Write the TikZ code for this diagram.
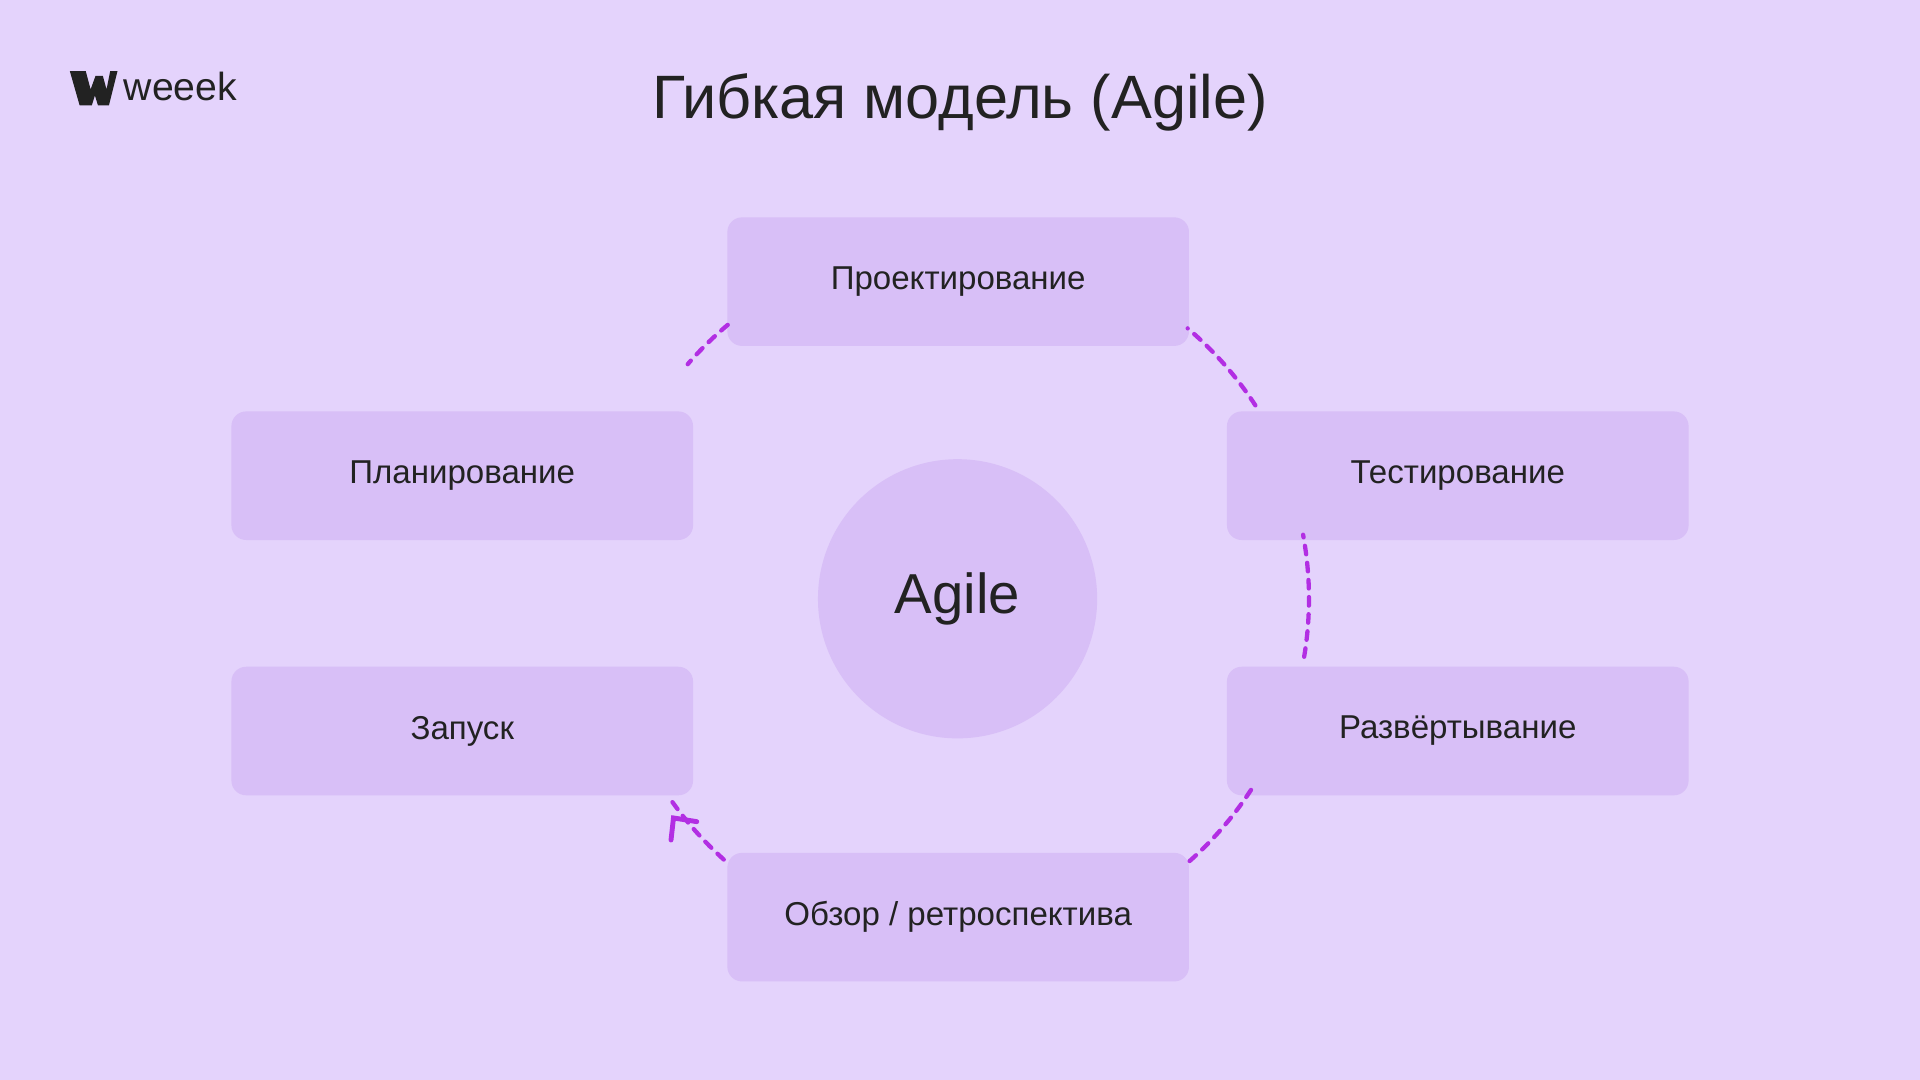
\documentclass[tikz,border=0pt]{standalone}
\usepackage{fontspec}
\setmainfont{Liberation Sans}
\definecolor{bg}{HTML}{E4D3FC}
\definecolor{bx}{HTML}{D8BFF7}
\definecolor{ln}{HTML}{B22EE3}
\definecolor{tx}{HTML}{222222}
\begin{document}
\begin{tikzpicture}[x=1pt,y=-1pt,
 box/.style={fill=bx,rounded corners=12pt,minimum width=377pt,minimum height=105pt,inner sep=0pt,text=tx,font=\fontsize{27}{30}\selectfont},
 arc/.style={ln,line width=3.5pt,line cap=round,dash pattern=on 7pt off 7pt}]
\fill[bg] (0,0) rectangle (1568,882);
\useasboundingbox (0,0) rectangle (1568,882);
\fill[tx] (57,58) -- (70,58) -- (74,73) -- (78,62) -- (84,62) -- (87,73) -- (90,58) -- (96,58) -- (89,86) -- (80,86) -- (77.5,78) -- (75,86) -- (65,86) -- cycle;
\node[font=\fontsize{32}{34}\selectfont,text=tx,anchor=base west,inner sep=0] (logo) at (101,82) {weeek};
\node[font=\fontsize{50}{54}\selectfont,text=tx] (title) at (784,84) {Гибкая модель (Agile)};
\node[box] (p) at (782.5,230) {Проектирование};
\node[box] (pl) at (377.5,388.5) {Планирование};
\node[box] (t) at (1190.5,388.5) {Тестирование};
\node[box] (z) at (377.5,597) {Запуск};
\node[box] (r) at (1190.5,597) {Развёртывание};
\node[box] (o) at (782.5,749) {Обзор / ретроспектива};
\node[circle,fill=bx,minimum size=228pt,inner sep=0,text=tx,font=\fontsize{46}{50}\selectfont] (c) at (782,489) {Agile};
\draw[arc] (c.center) ++(144.5:286) arc[start angle=144.5,end angle=131,radius=286];
\draw[arc] (c.center) ++(48.5:286) arc[start angle=48.5,end angle=32,radius=286];
\draw[arc] (c.center) ++(9.5:287) arc[start angle=9.5,end angle=-10.5,radius=287];
\draw[arc] (c.center) ++(-33:290) arc[start angle=-33,end angle=-49.6,radius=290];
\draw[arc] (c.center) ++(-130:292) arc[start angle=-130,end angle=-139,radius=292];
\coordinate (tip) at (550,668);
\draw[ln,line width=4pt,line cap=round,line join=miter] (569,671) -- (tip) -- (548,686);
\end{tikzpicture}
\end{document}
